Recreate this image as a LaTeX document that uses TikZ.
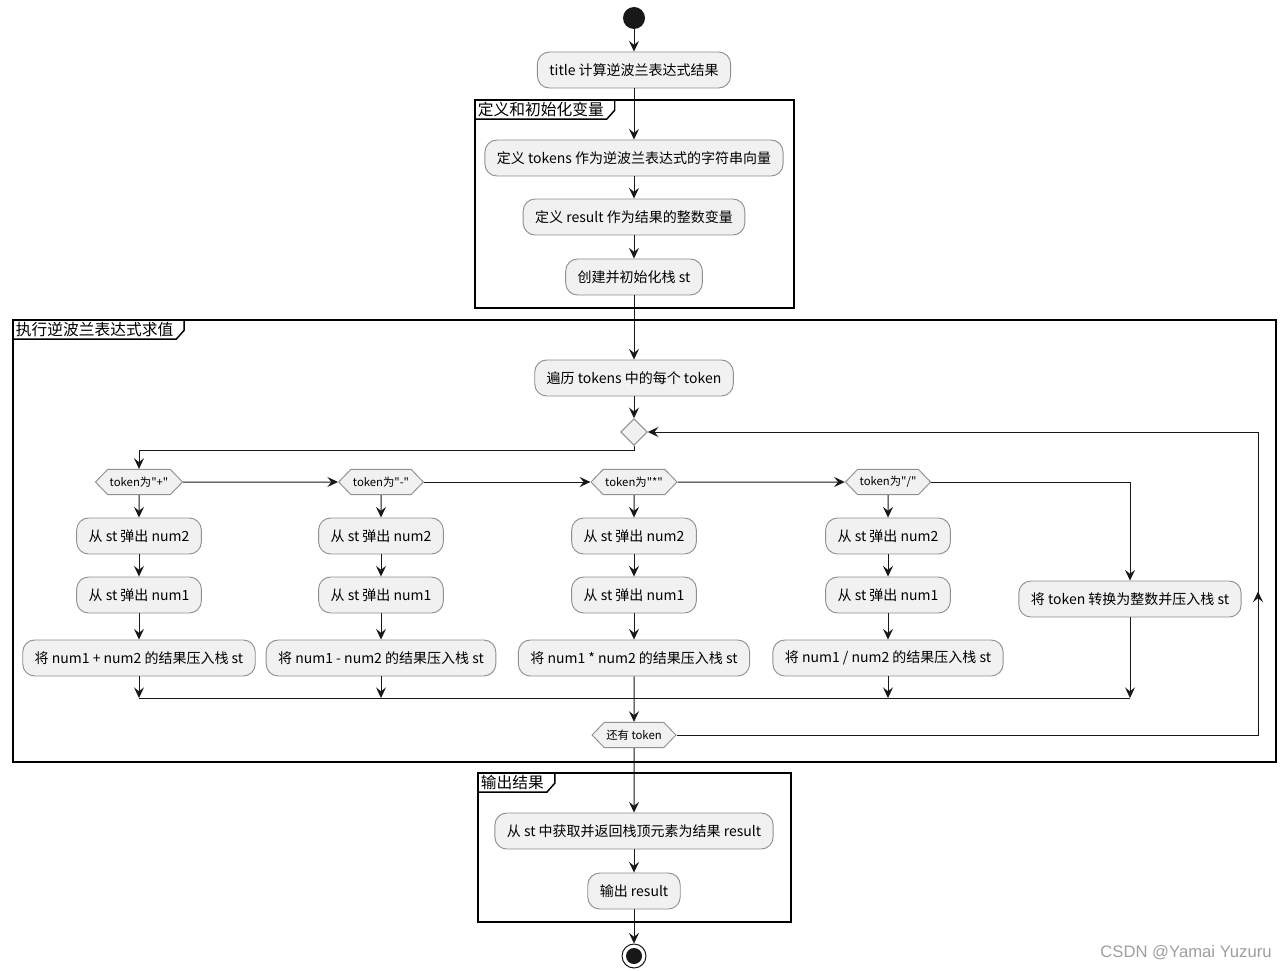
\documentclass[tikz,border=0pt]{standalone}
\usepackage{fontspec}
\setmainfont{Noto Sans CJK SC}[Ligatures=TeXOff]
\newfontfamily\wmfont{Liberation Sans}
\usetikzlibrary{arrows.meta,shapes.geometric,shapes.symbols,decorations.markings}
\definecolor{boxfill}{HTML}{F1F1F1}
\definecolor{boxline}{HTML}{909090}
\definecolor{inkline}{HTML}{181818}
\tikzstyle{act}=[draw=boxline,fill=boxfill,rounded corners=9pt,minimum height=27pt,inner xsep=9pt,line width=0.7pt,font=\fontsize{10.5}{12}\selectfont]
\tikzstyle{test}=[draw=boxline,fill=boxfill,signal,signal to=west and east,signal pointer angle=92,minimum height=19pt,inner xsep=1.5pt,line width=0.7pt,font=\fontsize{8.5}{10}\selectfont]
\tikzstyle{merge}=[diamond,draw=boxline,fill=boxfill,minimum size=20pt,inner sep=0pt,line width=0.7pt]
\tikzstyle{arr}=[draw=inkline,line width=0.75pt,-{Stealth[length=8pt,width=7.5pt,inset=3pt]}]
\tikzstyle{wire}=[draw=inkline,line width=0.75pt]
\tikzstyle{midtip}=[postaction={decorate},decoration={markings,mark=at position #1 with {\arrow{Stealth[length=8pt,width=7.5pt,inset=3pt]}}}]
\tikzstyle{grp}=[draw=black,line width=1.1pt]
\tikzstyle{grplabel}=[anchor=north west,inner xsep=2pt,inner ysep=1pt,minimum height=14pt,font=\fontsize{11.8}{13}\selectfont]

\begin{document}
\begin{tikzpicture}[x=0.75pt,y=-0.75pt]
    \fill[white] (0,0) rectangle (1287,970);
    \useasboundingbox (0,0) rectangle (1287,970);

    % group frames
    \draw[grp] (475,100) rectangle (794,308);
    \node[grplabel] (g1) at (475,100) {定义和初始化变量};
    \draw[grp] (g1.south west) -- (g1.south east) -- ++(8,-9) |- (g1.north west);
    \draw[grp] (13,320) rectangle (1276,762);
    \node[grplabel] (g2) at (13,320) {执行逆波兰表达式求值};
    \draw[grp] (g2.south west) -- (g2.south east) -- ++(8,-9) |- (g2.north west);
    \draw[grp] (478,773) rectangle (791,922);
    \node[grplabel] (g3) at (478,773) {输出结果};
    \draw[grp] (g3.south west) -- (g3.south east) -- ++(8,-9) |- (g3.north west);

    \node[circle,fill=inkline,minimum size=16.5pt,inner sep=0pt] (start) at (634,18) {};
    \node[act] (title) at (634,70) {title 计算逆波兰表达式结果};
    \node[act] (def1) at (634,158) {定义 tokens 作为逆波兰表达式的字符串向量};
    \node[act] (def2) at (634,217) {定义 result 作为结果的整数变量};
    \node[act] (mkst) at (634,277) {创建并初始化栈 st};
    \node[act] (loop) at (634,378) {遍历 tokens 中的每个 token};
    \node[merge] (merge) at (634,432) {};

    \node[test] (d1) at (139,482) {token为"+"};
    \node[test] (d2) at (381,482) {token为"-"};
    \node[test] (d3) at (634,482) {token为"*"};
    \node[test] (d4) at (888,482) {token为"/"};

    \foreach \i/\x in {1/139,2/381,3/634,4/888} {
        \node[act] (popa\i) at (\x,536) {从 st 弹出 num2};
        \node[act] (popb\i) at (\x,595) {从 st 弹出 num1};
    }
    \node[act] (push1) at (139,658) {将 num1 + num2 的结果压入栈 st};
    \node[act] (push2) at (381,658) {将 num1 - num2 的结果压入栈 st};
    \node[act] (push3) at (634,658) {将 num1 * num2 的结果压入栈 st};
    \node[act] (push4) at (888,658) {将 num1 / num2 的结果压入栈 st};
    \node[act] (conv) at (1130,599) {将 token 转换为整数并压入栈 st};

    \node[test] (more) at (634,735) {还有 token};
    \node[act] (res) at (634,831) {从 st 中获取并返回栈顶元素为结果 result};
    \node[act] (out) at (634,891) {输出 result};
    \node[circle,draw=inkline,fill=white,line width=0.75pt,minimum size=18pt,inner sep=0pt] (stop) at (634,956) {};
    \node[circle,fill=inkline,minimum size=12pt,inner sep=0pt] (stopdot) at (stop) {};

    \coordinate (join) at (634,698);
    \coordinate (back) at (1258,432);

    \foreach \from/\to in {start/title,title/def1,def1/def2,def2/mkst,mkst/loop,loop/merge,d1/d2,d2/d3,d3/d4,push3/more,more/res,res/out,out/stop}
    \draw[arr] (\from) -- (\to);
    \foreach \i in {1,...,4} {
        \draw[arr] (d\i) -- (popa\i);
        \draw[arr] (popa\i) -- (popb\i);
        \draw[arr] (popb\i) -- (push\i);
    }
    \draw[arr] (merge.south) -- ++(0,5) -| (d1);
    \draw[arr] (d4) -| (conv);
    \foreach \n in {push1,push2,push4,conv}
    \draw[arr] (\n) -- (\n |- join);
    \draw[wire] (push1 |- join) -- (conv |- join);
    \draw[arr,midtip=0.485] (more.east) -| (back) -- (merge.east);

    \node[text=gray!75,font=\wmfont\fontsize{12.5}{14}\selectfont] (wm) at (1186,953) {CSDN @Yamai Yuzuru};
\end{tikzpicture}
\end{document}
